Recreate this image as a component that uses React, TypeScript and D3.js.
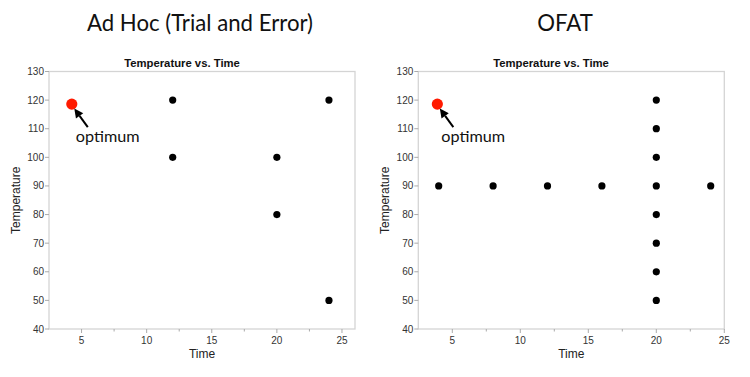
import React from "react";
import * as d3 from "d3";

// ---- Data ----
const adHocTime = [12, 12, 20, 20, 24, 24];
const adHocTemp = [120, 100, 100, 80, 120, 50];
const adHocOptimum = [4.25, 118.6];

const ofatTime = [4, 8, 12, 16, 20, 24, 20, 20, 20, 20, 20, 20, 20];
const ofatTemp = [90, 90, 90, 90, 90, 90, 120, 110, 100, 80, 70, 60, 50];
const ofatOptimum = [3.9, 118.6];

const yTicks = [40, 50, 60, 70, 80, 90, 100, 110, 120, 130];
const xTicks = [5, 10, 15, 20, 25];
const xMinorTicks = [7.5, 12.5, 17.5, 22.5];

const panelTitles = ["Ad Hoc (Trial and Error)", "OFAT"];
const chartTitle = "Temperature vs. Time";
const xLabel = "Time";
const yLabel = "Temperature";
const annotation = "optimum";

type PanelProps = {
  title: string;
  titleX: number;
  subX: number;
  left: number;
  right: number;
  xDomain: [number, number];
  times: number[];
  temps: number[];
  optimum: number[];
  ylabelX: number;
};

function Panel(p: PanelProps) {
  const x = d3.scaleLinear().domain(p.xDomain).range([p.left, p.right]);
  const y = d3.scaleLinear().domain([40, 130]).range([329, 71.5]);
  const top = y(130);
  const bottom = y(40);
  const ox = x(p.optimum[0]);
  const oy = y(p.optimum[1]);
  const tipX = ox + 2.5;
  const tipY = oy + 4.5;
  const tailX = ox + 16;
  const tailY = oy + 23;
  const ang = Math.atan2(tipY - tailY, tipX - tailX);
  const hl = 9;
  const hw = 4.5;
  const bx = tipX - hl * Math.cos(ang);
  const by = tipY - hl * Math.sin(ang);
  const px = -Math.sin(ang) * hw;
  const py = Math.cos(ang) * hw;
  const fontAxis = "'Liberation Sans', Arial, sans-serif";
  return (
    <g>
      <text
        x={p.titleX}
        y={31}
        textAnchor="middle"
        fontFamily="Lato, sans-serif"
        fontSize={22.2}
        fill="#111"
      >
        {p.title}
      </text>
      <text
        x={p.subX}
        y={67}
        textAnchor="middle"
        fontFamily={fontAxis}
        fontWeight="bold"
        fontSize={11.3}
        fill="#111"
      >
        {chartTitle}
      </text>
      <rect
        x={p.left}
        y={top}
        width={p.right - p.left}
        height={bottom - top}
        fill="white"
        stroke="#d4d4d4"
        strokeWidth={1.3}
      />
      {yTicks.map((t) => (
        <g key={"y" + t}>
          <line x1={p.left - 4} x2={p.left} y1={y(t)} y2={y(t)} stroke="#aaa" />
          <text
            x={p.left - 5}
            y={y(t) + 3.5}
            textAnchor="end"
            fontFamily={fontAxis}
            fontSize={10}
            fill="#333"
          >
            {t}
          </text>
        </g>
      ))}
      {xTicks.map((t) => (
        <g key={"x" + t}>
          <line x1={x(t)} x2={x(t)} y1={bottom} y2={bottom + 4} stroke="#aaa" />
          <text
            x={x(t)}
            y={bottom + 15}
            textAnchor="middle"
            fontFamily={fontAxis}
            fontSize={10}
            fill="#333"
          >
            {t}
          </text>
        </g>
      ))}
      {xMinorTicks.map((t) => (
        <line key={"m" + t} x1={x(t)} x2={x(t)} y1={bottom} y2={bottom + 2.5} stroke="#aaa" />
      ))}
      <text
        x={(p.left + p.right) / 2}
        y={bottom + 29}
        textAnchor="middle"
        fontFamily={fontAxis}
        fontSize={12}
        fill="#222"
      >
        {xLabel}
      </text>
      <text
        transform={`translate(${p.ylabelX},${(top + bottom) / 2}) rotate(-90)`}
        textAnchor="middle"
        fontFamily={fontAxis}
        fontSize={12}
        fill="#222"
      >
        {yLabel}
      </text>
      {p.times.map((t, i) => (
        <circle key={"p" + i} cx={x(t)} cy={y(p.temps[i])} r={3.6} fill="#000" />
      ))}
      <circle cx={ox} cy={oy} r={5.6} fill="#ff1a00" />
      <line x1={tailX} y1={tailY} x2={bx} y2={by} stroke="#000" strokeWidth={2} />
      <polygon
        points={`${tipX},${tipY} ${bx + px},${by + py} ${bx - px},${by - py}`}
        fill="#000"
      />
      <text
        x={ox + 4}
        y={oy + 38}
        fontFamily="Lato, sans-serif"
        fontSize={16.2}
        fill="#111"
      >
        {annotation}
      </text>
    </g>
  );
}

export default function App() {
  return (
    <svg
      width={750}
      height={377}
      style={{ position: "absolute", left: 0, top: 0, background: "white" }}
    >
      <rect width={750} height={377} fill="white" />
      <Panel
        title={panelTitles[0]}
        titleX={200}
        subX={182}
        left={49}
        right={355}
        xDomain={[2.5, 26]}
        times={adHocTime}
        temps={adHocTemp}
        optimum={adHocOptimum}
        ylabelX={20}
      />
      <Panel
        title={panelTitles[1]}
        titleX={565}
        subX={551}
        left={418.3}
        right={724.3}
        xDomain={[2.5, 25]}
        times={ofatTime}
        temps={ofatTemp}
        optimum={ofatOptimum}
        ylabelX={389}
      />
    </svg>
  );
}
